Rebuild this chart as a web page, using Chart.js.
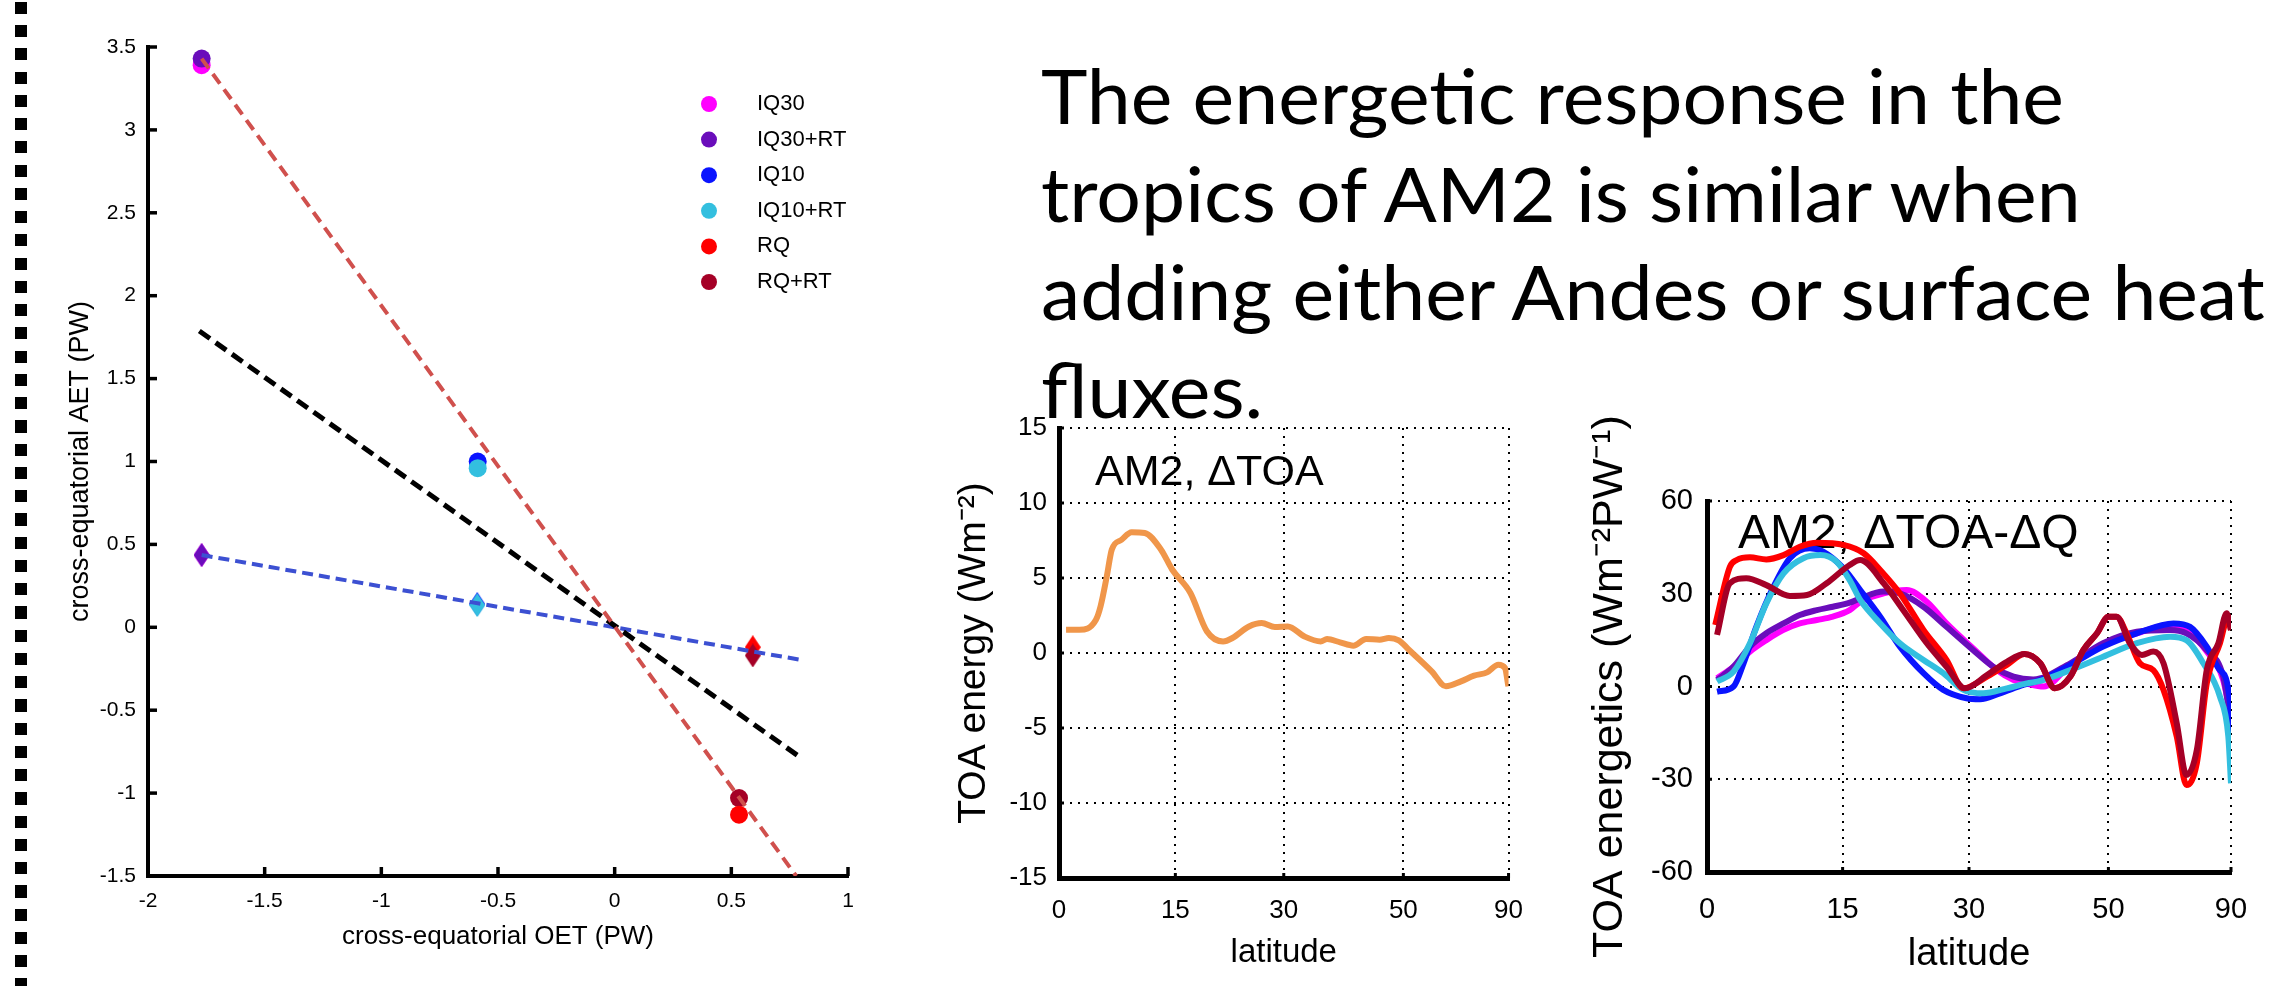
<!DOCTYPE html>
<html>
<head>
<meta charset="utf-8">
<script src="https://cdn.jsdelivr.net/npm/chart.js@4.4.1/dist/chart.umd.min.js"></script>
<style>
  html, body { margin: 0; padding: 0; background: #fff; }
  body { width: 2284px; height: 986px; position: relative; overflow: hidden; }
  canvas { position: absolute; }
  #rule {
    position: absolute; left: 15px; top: 1.75px; width: 12px; height: 990px;
    background: repeating-linear-gradient(to bottom, #000 0, #000 12px, transparent 12px, transparent 23.25px);
  }
  #note {
    position: absolute; left: 1041px; top: 46px;
    font-family: Lato, "Open Sans", sans-serif; font-size: 75px; line-height: 98px;
    color: #000; white-space: nowrap; transform-origin: 0 0;
  }
</style>
</head>
<body>
<div id="rule"></div>
<canvas id="cBalance" width="860" height="986" style="left:30px;top:0"></canvas>
<canvas id="cToa" width="640" height="586" style="left:900px;top:400px"></canvas>
<canvas id="cRatio" width="744" height="586" style="left:1540px;top:400px"></canvas>
<div id="note">The energetic response in the<br>tropics of AM2 is similar when<br>adding either Andes or surface heat<br>fluxes.</div>
<script>
// ---- left panel: cross-equatorial transports (PW)
const runNames = ['IQ30', 'IQ30+RT', 'IQ10', 'IQ10+RT', 'RQ', 'RQ+RT'];
const runColors = ['#ff00ff', '#6a0dbb', '#0a14ff', '#33bfdf', '#ff0000', '#a50026'];
const oetCircle = [-1.77, -1.77, -0.587, -0.587, 0.533, 0.533];
const aetCircle = [3.39, 3.43, 1.0, 0.96, -1.13, -1.03];
const oetDiamond = [-1.77, -1.77, -0.589, -0.589, 0.592, 0.592];
const aetDiamond = [0.436, 0.436, 0.14, 0.134, -0.12, -0.17];
const redFitX = [-1.77, 0.778];
const redFitY = [3.43, -1.5];
const blackFitX = [-1.78, 0.795];
const blackFitY = [1.787, -0.784];
const blueFitX = [-1.77, 0.80];
const blueFitY = [0.436, -0.197];
const oetTicks = [-2, -1.5, -1, -0.5, 0, 0.5, 1];
const aetTicks = [-1.5, -1, -0.5, 0, 0.5, 1, 1.5, 2, 2.5, 3, 3.5];

// ---- middle panel: AM2 delta TOA (W m-2) vs latitude
const toaLat = [0.9, 2.6, 4.7, 5.3, 6.1, 6.75, 8.0, 9.3, 11.0, 13.1, 14.6, 17.0, 19.2, 21.4, 22.7, 25.0, 26.8, 28.7, 30.6, 33.1, 35.6, 36.6, 38.7, 40.9, 43.1, 45.5, 47.2, 49.1, 51.1, 56.0, 59.4, 63.4, 67.4, 72.2, 77.8, 82.8, 88.4];
const toaVal = [1.55, 1.55, 2.2, 3.1, 5.1, 6.9, 7.55, 8.05, 8.0, 6.9, 5.55, 4.0, 1.45, 0.77, 1.0, 1.77, 2.0, 1.73, 1.77, 1.1, 0.77, 0.93, 0.71, 0.49, 0.93, 0.89, 1.0, 0.84, 0.22, -1.22, -2.22, -1.89, -1.51, -1.29, -0.78, -1.0, -2.22];
const latTicks = [0, 15, 30, 50, 90];
const toaTicks = [-15, -10, -5, 0, 5, 10, 15];

// ---- right panel: (dTOA - dQ) per PW, one curve per run
const iq30Lat = [1.1, 2.9, 4.7, 6.5, 8.4, 10.2, 12.1, 13.9, 15.8, 17.0, 19.7, 22.4, 24.8, 27.2, 30.5, 33.6, 35.8, 37.5, 40.0, 43.9, 49.1, 55.1, 62.1, 66.2, 72.5, 80.1, 89.5];
const iq30Val = [2.7, 6.4, 11.3, 15.0, 18.3, 20.4, 21.5, 22.6, 24.7, 27.4, 30.1, 31.2, 27.4, 20.4, 12.4, 5.3, 2.1, 1.0, 0.0, 7.0, 13.4, 17.2, 19.9, 18.3, 11.3, 2.1, -9.8];
const iq30rtLat = [1.1, 2.9, 4.7, 6.5, 8.4, 10.2, 12.1, 13.9, 15.8, 17.0, 19.7, 21.6, 24.4, 27.2, 30.5, 33.1, 35.8, 38.5, 43.9, 49.1, 55.1, 62.1, 66.2, 72.5, 80.1, 89.5];
const iq30rtVal = [2.1, 6.4, 12.9, 17.2, 20.4, 23.1, 24.7, 25.8, 27.1, 28.5, 30.7, 30.1, 25.8, 19.3, 11.8, 6.4, 3.2, 2.3, 7.5, 14.0, 17.7, 18.3, 17.2, 11.8, 3.2, -11.9];
const iq10Lat = [1.1, 2.9, 4.0, 5.4, 7.3, 9.1, 11.3, 12.8, 15.1, 17.0, 19.3, 21.6, 24.4, 26.8, 29.7, 31.4, 34.0, 37.1, 39.5, 43.9, 49.1, 55.1, 62.9, 67.2, 72.5, 78.2, 86.5, 89.5];
const iq10Val = [-1.7, 0.0, 7.5, 19.3, 32.3, 41.5, 44.7, 43.6, 38.2, 31.2, 22.6, 12.9, 4.3, -1.1, -3.8, -4.1, -2.2, 0.5, 2.1, 7.0, 12.9, 17.2, 20.4, 19.3, 12.9, 5.3, -5.4, -18.4];
const iq10rtLat = [1.1, 2.9, 4.7, 6.5, 8.4, 10.6, 12.5, 14.3, 15.8, 17.0, 19.3, 21.6, 24.4, 26.8, 29.3, 31.8, 34.9, 37.6, 39.5, 43.9, 49.1, 55.1, 62.1, 66.2, 71.3, 78.2, 84.2, 89.5];
const iq10rtVal = [1.6, 4.8, 14.0, 26.9, 36.6, 41.5, 42.5, 40.4, 34.4, 28.0, 20.4, 14.0, 8.6, 4.3, -1.1, -2.2, -0.6, 1.0, 1.8, 5.3, 9.6, 14.0, 16.1, 15.0, 7.5, -3.3, -16.2, -31.3];
const rqLat = [0.9, 2.5, 3.25, 4.7, 6.5, 8.4, 10.2, 12.1, 15.1, 17.4, 19.3, 21.6, 24.4, 27.2, 29.3, 32.3, 34.9, 37.3, 39.5, 41.6, 43.9, 45.9, 48.1, 50.0, 51.4, 53.2, 55.7, 58.4, 60.6, 63.7, 66.2, 69.2, 72.5, 78.2, 84.2, 89.0];
const rqVal = [19.9, 38.7, 40.9, 41.8, 41.1, 42.5, 45.2, 46.5, 45.8, 43.1, 37.7, 30.1, 18.3, 8.6, -0.6, 3.2, 7.0, 10.5, 7.5, -0.6, 3.2, 11.8, 17.2, 22.6, 22.6, 17.2, 7.5, 5.3, -1.1, -16.2, -31.9, -24.8, 1.0, 14.0, 22.6, 18.3];
const rqrtLat = [1.1, 2.5, 4.3, 6.5, 9.1, 11.0, 13.2, 15.8, 17.0, 19.7, 22.0, 24.8, 27.2, 29.5, 32.3, 34.9, 37.3, 39.5, 41.6, 43.9, 45.9, 48.1, 50.0, 51.4, 53.8, 56.1, 58.4, 60.6, 63.7, 66.2, 69.2, 72.5, 77.4, 82.6, 89.0];
const rqrtVal = [16.7, 33.4, 35.0, 32.8, 29.3, 29.6, 33.4, 39.3, 40.9, 33.4, 24.7, 14.0, 6.4, -0.6, 3.7, 8.0, 10.5, 7.5, -0.6, 3.2, 11.8, 17.2, 22.6, 22.6, 14.0, 10.2, 11.3, 7.5, -11.9, -28.6, -20.5, 5.3, 14.0, 23.7, 18.3];
const ratioTicks = [-60, -30, 0, 30, 60];

const FONT = "'Liberation Sans', Arial, Helvetica, sans-serif";
const sinLat = d => Math.sin(d * Math.PI / 180);

// fit the slide text to the width it has in the original
const note = document.getElementById('note');
note.style.transform = 'scaleX(' + (1224 / note.scrollWidth) + ')';

// short tick marks pointing into the plot, like matlab
const innerTicks = {
  id: 'innerTicks',
  afterDraw(chart, args, opts) {
    const { ctx, chartArea: a, scales } = chart;
    ctx.save();
    ctx.strokeStyle = '#000';
    ctx.lineWidth = opts.width;
    scales.x.ticks.forEach(t => {
      const px = scales.x.getPixelForValue(t.value);
      ctx.beginPath(); ctx.moveTo(px, a.bottom); ctx.lineTo(px, a.bottom - opts.len); ctx.stroke();
    });
    scales.y.ticks.forEach(t => {
      const py = scales.y.getPixelForValue(t.value);
      ctx.beginPath(); ctx.moveTo(a.left, py); ctx.lineTo(a.left + opts.len, py); ctx.stroke();
    });
    ctx.restore();
  }
};

// panel label inside the axes, drawn under the curves
const panelTag = {
  id: 'panelTag',
  beforeDatasetsDraw(chart, args, opts) {
    const { ctx, chartArea: a } = chart;
    ctx.save();
    ctx.font = opts.size + 'px ' + FONT;
    ctx.fillStyle = '#000';
    ctx.textBaseline = 'alphabetic';
    ctx.fillText(opts.text, a.left + opts.dx, a.top + opts.dy);
    ctx.restore();
  }
};

// legend of the scatter panel, inside the axes at top right
const runLegend = {
  id: 'runLegend',
  afterDraw(chart) {
    const ctx = chart.ctx;
    ctx.save();
    ctx.font = '22px ' + FONT;
    ctx.textBaseline = 'middle';
    runNames.forEach((name, i) => {
      const y = 104 + i * 35.6;
      ctx.fillStyle = runColors[i];
      ctx.beginPath(); ctx.arc(679, y, 8, 0, Math.PI * 2); ctx.fill();
      ctx.fillStyle = '#000';
      ctx.fillText(name, 727, y);
    });
    ctx.restore();
  }
};

function diamond(color) {
  const c = document.createElement('canvas');
  c.width = 16; c.height = 24;
  const g = c.getContext('2d');
  g.fillStyle = color;
  g.beginPath(); g.moveTo(8, 0); g.lineTo(16, 12); g.lineTo(8, 24); g.lineTo(0, 12); g.closePath(); g.fill();
  return c;
}

function axis(opt) {
  const horiz = opt.pos === 'bottom';
  return {
    type: 'linear',
    position: opt.pos,
    min: opt.min, max: opt.max,
    afterBuildTicks: s => { s.ticks = opt.ticks.map(v => ({ value: v })); },
    afterFit: s => { if (horiz) s.height = opt.box; else s.width = opt.box; },
    ticks: {
      color: '#000', font: { family: FONT, size: opt.tickSize }, padding: opt.tickPad,
      autoSkip: false, maxRotation: 0, minRotation: 0,
      callback: (v, i) => opt.labels[i]
    },
    grid: opt.dotted
      ? { display: true, drawTicks: false, color: '#000', lineWidth: 2 }
      : { display: false, drawTicks: false },
    border: { display: true, color: '#000', width: opt.lineW, dash: [2, 6] },
    title: {
      display: true, text: opt.title, color: '#000',
      font: { family: FONT, size: opt.titleSize, lineHeight: 1.2 },
      padding: horiz ? { top: 0, bottom: opt.titlePad } : { top: opt.titlePad, bottom: 0 }
    }
  };
}

const baseOpts = {
  responsive: false, animation: false, devicePixelRatio: 1, events: []
};

// ---------- left chart
const circleOrder = [20, 19, 18, 17, 15, 16];
const diamondOrder = [30, 29, 28, 27, 26, 25];
const scatterSets = [];
runNames.forEach((name, i) => {
  scatterSets.push({
    label: name, data: [{ x: oetCircle[i], y: aetCircle[i] }],
    pointStyle: 'circle', pointRadius: 9, backgroundColor: runColors[i], borderWidth: 0, order: circleOrder[i]
  });
  scatterSets.push({
    label: name + ' (RT fit)', data: [{ x: oetDiamond[i], y: aetDiamond[i] }],
    pointStyle: diamond(runColors[i]), pointRadius: 12, order: diamondOrder[i]
  });
});
const fitLine = (xs, ys, color, width, dash, order) => ({
  label: 'fit', data: xs.map((x, i) => ({ x, y: ys[i] })), showLine: true,
  borderColor: color, borderWidth: width, borderDash: dash, pointRadius: 0, order
});
scatterSets.push(fitLine(redFitX, redFitY, '#d0504d', 4, [12, 7], 0));
scatterSets.push(fitLine(blackFitX, blackFitY, '#000000', 5, [13, 7], 1));
scatterSets.push(fitLine(blueFitX, blueFitY, '#3c50d2', 4, [11, 6], 2));

new Chart(document.getElementById('cBalance'), {
  type: 'scatter',
  data: { datasets: scatterSets },
  options: {
    ...baseOpts,
    layout: { padding: { top: 47, right: 42, left: 0, bottom: 0 } },
    plugins: { legend: { display: false }, tooltip: { enabled: false }, innerTicks: { len: 9, width: 3.5 } },
    scales: {
      x: axis({ pos: 'bottom', min: -2, max: 1, ticks: oetTicks, labels: oetTicks.map(String), box: 110,
        tickSize: 21, tickPad: 13, lineW: 4, title: 'cross-equatorial OET (PW)', titleSize: 26, titlePad: 34 }),
      y: axis({ pos: 'left', min: -1.5, max: 3.5, ticks: aetTicks, labels: aetTicks.map(String), box: 118,
        tickSize: 21, tickPad: 12, lineW: 4, title: 'cross-equatorial AET (PW)', titleSize: 27, titlePad: 34 })
    }
  },
  plugins: [innerTicks, runLegend]
});

// ---------- middle chart
new Chart(document.getElementById('cToa'), {
  type: 'line',
  data: {
    datasets: [{
      label: 'AM2, ΔTOA',
      data: toaLat.map((l, i) => ({ x: sinLat(l), y: toaVal[i] })),
      borderColor: '#f0964a', borderWidth: 6, pointRadius: 0, cubicInterpolationMode: 'monotone'
    }]
  },
  options: {
    ...baseOpts,
    layout: { padding: { top: 28, right: 21, left: 0, bottom: 0 } },
    plugins: {
      legend: { display: false }, tooltip: { enabled: false },
      innerTicks: { len: 5, width: 3 },
      panelTag: { text: 'AM2, ΔTOA', size: 43, dx: 36, dy: 57 }
    },
    scales: {
      x: axis({ pos: 'bottom', min: 0, max: 1, ticks: latTicks.map(sinLat), labels: latTicks.map(String), box: 108,
        tickSize: 26, tickPad: 17, lineW: 5, dotted: true, title: 'latitude', titleSize: 33, titlePad: 13 }),
      y: axis({ pos: 'left', min: -15, max: 15, ticks: toaTicks, labels: toaTicks.map(String), box: 159,
        tickSize: 26, tickPad: 12, lineW: 5, dotted: true, title: 'TOA energy (Wm⁻²)', titleSize: 39, titlePad: 51 })
    }
  },
  plugins: [innerTicks, panelTag]
});

// ---------- right chart
const ratioRuns = [
  [iq30Lat, iq30Val], [iq30rtLat, iq30rtVal], [iq10Lat, iq10Val],
  [iq10rtLat, iq10rtVal], [rqLat, rqVal], [rqrtLat, rqrtVal]
];
new Chart(document.getElementById('cRatio'), {
  type: 'line',
  data: {
    datasets: ratioRuns.map(([lat, val], i) => ({
      label: runNames[i],
      data: lat.map((l, j) => ({ x: sinLat(l), y: val[j] })),
      borderColor: runColors[i], borderWidth: 6, pointRadius: 0,
      cubicInterpolationMode: 'monotone', order: 6 - i
    }))
  },
  options: {
    ...baseOpts,
    layout: { padding: { top: 101, right: 53, left: 0, bottom: 0 } },
    plugins: {
      legend: { display: false }, tooltip: { enabled: false },
      innerTicks: { len: 5, width: 3 },
      panelTag: { text: 'AM2, ΔTOA-ΔQ', size: 48, dx: 31, dy: 47 }
    },
    scales: {
      x: axis({ pos: 'bottom', min: 0, max: 1, ticks: latTicks.map(sinLat), labels: latTicks.map(String), box: 114,
        tickSize: 29, tickPad: 21, lineW: 5, dotted: true, title: 'latitude', titleSize: 38, titlePad: 9 }),
      y: axis({ pos: 'left', min: -60, max: 60, ticks: ratioTicks, labels: ratioTicks.map(String), box: 167,
        tickSize: 29, tickPad: 14, lineW: 5, dotted: true, title: 'TOA energetics (Wm⁻²PW⁻¹)', titleSize: 43, titlePad: 44 })
    }
  },
  plugins: [innerTicks, panelTag]
});
</script>
</body>
</html>
